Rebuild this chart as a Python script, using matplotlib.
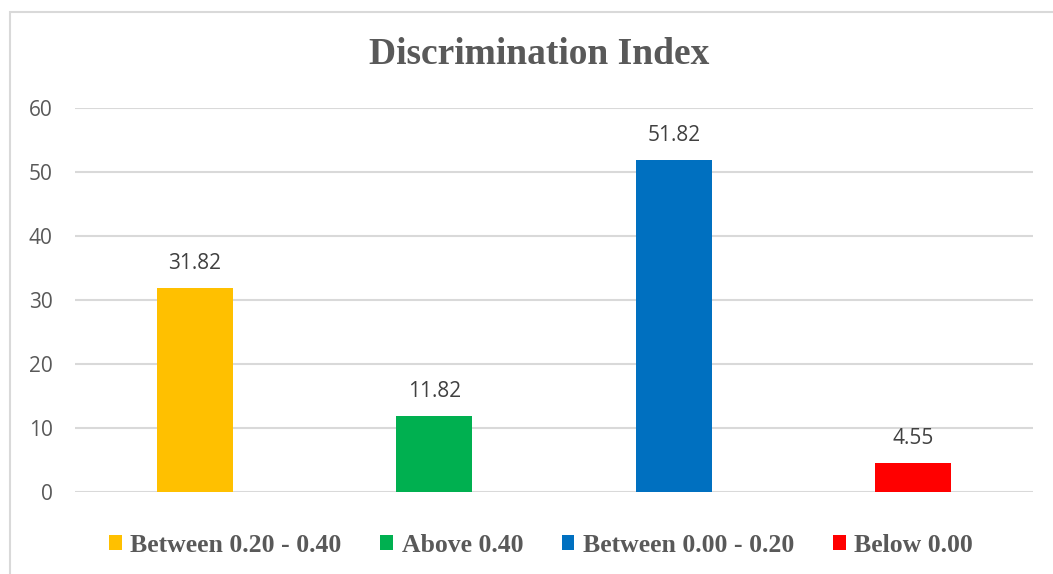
import matplotlib
matplotlib.use("Agg")
import matplotlib.pyplot as plt
from matplotlib.patches import Rectangle, Patch

categories = ["Between 0.20 - 0.40", "Above 0.40", "Between 0.00 - 0.20", "Below 0.00"]
values = [31.82, 11.82, 51.82, 4.55]
labels = ["31.82", "11.82", "51.82", "4.55"]
colors = ["#FFC000", "#00B050", "#0070C0", "#FF0000"]
yticks = [0, 10, 20, 30, 40, 50, 60]

W, H = 1053, 574
fig = plt.figure(figsize=(W / 100, H / 100), dpi=100)
fig.patch.set_facecolor("white")

# outer chart border (partially cut by image edge)
fig.patches.append(Rectangle((10 / W, -0.05), 1.2, 1 - 12 / H + 0.05,
                             transform=fig.transFigure, fill=False,
                             edgecolor="#D9D9D9", linewidth=1.5))

ax = fig.add_axes([75 / W, 1 - 492 / H, (1033 - 75) / W, (492 - 108) / H])
x = list(range(len(categories)))
ax.bar(x, values, width=0.317, color=colors, zorder=3)
for xi, v, lab in zip(x, values, labels):
    ax.annotate(lab, (xi, v), xytext=(0, 10), textcoords="offset points",
                ha="center", va="bottom", fontsize=15, color="#404040",
                family="Open Sans")

ax.set_xlim(-0.5, 3.5)
ax.set_ylim(0, 60)
ax.set_yticks(yticks)
ax.set_yticklabels([str(t) for t in yticks], fontsize=15, color="#595959",
                   family="Open Sans")
ax.tick_params(axis="y", length=0, pad=16)
ax.set_xticks([])
ax.grid(axis="y", color="#D9D9D9", linewidth=1.5, zorder=0)
for s in ax.spines.values():
    s.set_visible(False)

fig.text(539 / W, 1 - 55 / H, "Discrimination Index", ha="center", va="center",
         fontsize=27, fontweight="bold", color="#595959", family="Liberation Serif")

handles = [Patch(facecolor=c, edgecolor="none") for c in colors]
leg = fig.legend(handles, categories, loc="center", bbox_to_anchor=(541 / W, 1 - 545 / H),
                 ncol=4, frameon=False, handlelength=0.5, handleheight=0.5,
                 handletextpad=0.33, columnspacing=1.5,
                 prop={"family": "Liberation Serif", "weight": "bold", "size": 18.5})
for t in leg.get_texts():
    t.set_color("#595959")

fig.savefig("out.png", dpi=100)
